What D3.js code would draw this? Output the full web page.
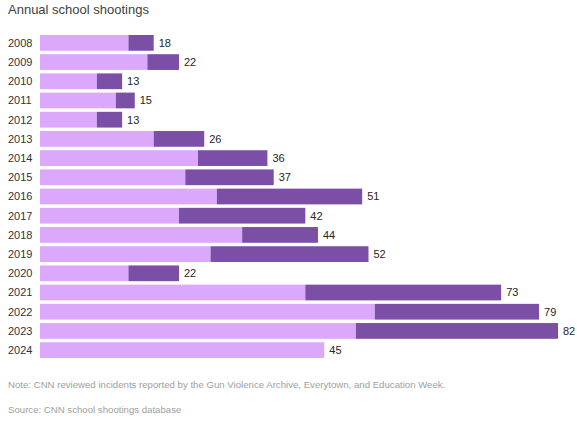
<!DOCTYPE html>
<html>
<head>
<meta charset="utf-8">
<script src="https://cdn.jsdelivr.net/npm/d3@7"></script>
<style>
  body { margin: 0; background: #fff; font-family: "Liberation Sans", Arial, sans-serif; }
</style>
</head>
<body>
<div id="vis"></div>
<script>
const FRAME_WIDTH = 577;
const FRAME_HEIGHT = 424;

const YEARS = ["2008", "2009", "2010", "2011", "2012", "2013", "2014", "2015", "2016",
  "2017", "2018", "2019", "2020", "2021", "2022", "2023", "2024"];
// light segment and dark segment of each bar
const PART_A = [14, 17, 9, 12, 9, 18, 25, 23, 28, 22, 32, 27, 14, 42, 53, 50, 45];
const PART_B = [4, 5, 4, 3, 4, 8, 11, 14, 23, 20, 12, 25, 8, 31, 26, 32, 0];
const TOTALS = [18, 22, 13, 15, 13, 26, 36, 37, 51, 42, 44, 52, 22, 73, 79, 82, 45];

const X_SCALE = d3.scaleLinear()
  .domain([0, d3.max(TOTALS)])
  .range([40, 558]);

const Y_SCALE = d3.scaleBand()
  .domain(YEARS)
  .range([35, 358])
  .paddingInner(0.18)
  .paddingOuter(0);

const svg = d3.select("#vis")
  .append("svg")
    .attr("width", FRAME_WIDTH)
    .attr("height", FRAME_HEIGHT);

// title
svg.append("text")
  .attr("x", 8)
  .attr("y", 14)
  .attr("font-size", 13)
  .attr("fill", "#404040")
  .text("Annual school shootings");

const rows = svg.selectAll(".row")
  .data(YEARS)
  .enter()
  .append("g")
    .attr("class", "row");

// light part
rows.append("rect")
  .attr("x", X_SCALE(0))
  .attr("y", (d) => Y_SCALE(d))
  .attr("width", (d, i) => X_SCALE(PART_A[i]) - X_SCALE(0))
  .attr("height", Y_SCALE.bandwidth())
  .attr("fill", "#dca8fc");

// dark part
rows.append("rect")
  .attr("x", (d, i) => X_SCALE(PART_A[i]))
  .attr("y", (d) => Y_SCALE(d))
  .attr("width", (d, i) => X_SCALE(PART_A[i] + PART_B[i]) - X_SCALE(PART_A[i]))
  .attr("height", Y_SCALE.bandwidth())
  .attr("fill", "#7b4fa5");

// year labels
rows.append("text")
  .attr("x", 8)
  .attr("y", (d) => Y_SCALE(d) + Y_SCALE.bandwidth() / 2)
  .attr("dy", "0.35em")
  .attr("font-size", 11)
  .attr("fill", "#333")
  .text((d) => d);

// totals
rows.append("text")
  .attr("x", (d, i) => X_SCALE(TOTALS[i]) + 5)
  .attr("y", (d) => Y_SCALE(d) + Y_SCALE.bandwidth() / 2)
  .attr("dy", "0.35em")
  .attr("font-size", 11)
  .attr("fill", "#262626")
  .text((d, i) => TOTALS[i]);

// notes
svg.append("text")
  .attr("x", 8)
  .attr("y", 388)
  .attr("font-size", 9.65)
  .attr("fill", "#9e9e9e")
  .text("Note: CNN reviewed incidents reported by the Gun Violence Archive, Everytown, and Education Week.");

svg.append("text")
  .attr("x", 8)
  .attr("y", 413)
  .attr("font-size", 9.65)
  .attr("fill", "#9e9e9e")
  .text("Source: CNN school shootings database");
</script>
</body>
</html>
